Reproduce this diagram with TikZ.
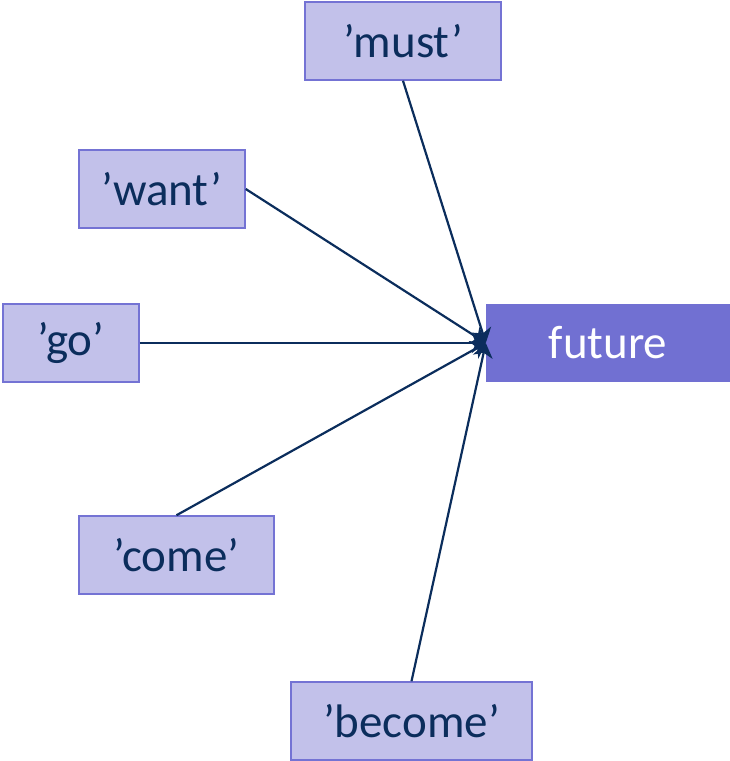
\documentclass[tikz,border=0pt]{standalone}
\usepackage{fontspec}
\setmainfont{Carlito}
\usetikzlibrary{arrows.meta}
\definecolor{wordfill}{HTML}{C2C1EA}
\definecolor{wordline}{HTML}{7473D4}
\definecolor{futfill}{HTML}{7170D2}
\definecolor{ink}{HTML}{0B2D5C}
\begin{document}
\begin{tikzpicture}[x=1pt, y=-1pt, every node/.style={rectangle, minimum height=78pt, inner sep=0pt, font=\fontsize{47}{52}\selectfont}]
	\tikzstyle{word}=[fill=wordfill, draw=wordline, line width=1.5pt, text=ink]
	\tikzstyle{goal}=[fill=futfill, text=white]
	\tikzstyle{link}=[draw=ink, line width=2.2pt, -{Stealth[length=14pt, width=20pt, inset=4pt]}]
	\useasboundingbox (0,0) rectangle (730,761);
	\node[goal, minimum width=244pt] (fut) at (608,343) {future};
	\node[word, minimum width=196pt] (w1) at (403,41) {’must’};
	\node[word, minimum width=166pt] (w2) at (162,189) {’want’};
	\node[word, minimum width=136pt] (w3) at (71,343) {’go’};
	\node[word, minimum width=195pt] (w4) at (176.5,555) {’come’};
	\node[word, minimum width=241pt] (w5) at (411.5,721) {’become’};
	\draw[link] (w1.south) -- (fut.west);
	\draw[link] (w2.east) -- (fut.west);
	\draw[link] (w3.east) -- (fut.west);
	\draw[link] (w4.north) -- (fut.west);
	\draw[link] (w5.north) -- (fut.west);
\end{tikzpicture}
\end{document}
